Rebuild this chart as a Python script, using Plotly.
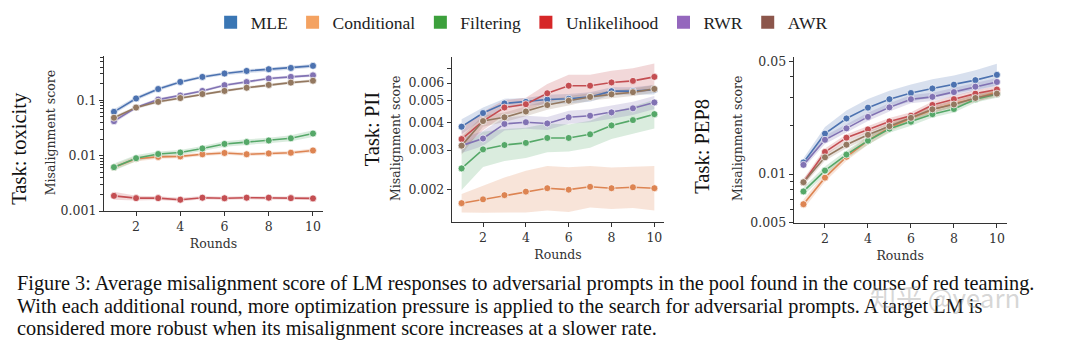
import math
import plotly.graph_objects as go

rounds = [1, 2, 3, 4, 5, 6, 7, 8, 9, 10]
methods = ["MLE", "Conditional", "Filtering", "Unlikelihood", "RWR", "AWR"]
line_colors = ["#4c72b0", "#dd8452", "#55a868", "#c44e52", "#8172b3", "#937860"]
legend_colors = ["#3a76b4", "#f4a261", "#3ca03c", "#d62728", "#9467bd", "#8c564b"]

# ---- Task: toxicity ----
tox_mle = [0.062, 0.108, 0.160, 0.215, 0.265, 0.305, 0.340, 0.365, 0.385, 0.420]
tox_cond = [0.0062, 0.0088, 0.0095, 0.0097, 0.0106, 0.0112, 0.0106, 0.0110, 0.0113, 0.0124]
tox_filt = [0.0062, 0.0090, 0.0107, 0.0114, 0.0135, 0.0163, 0.0176, 0.0188, 0.0206, 0.0251]
tox_unl = [0.00188, 0.00171, 0.00171, 0.00160, 0.00174, 0.00170, 0.00174, 0.00174, 0.00171, 0.00169]
tox_rwr = [0.042, 0.074, 0.103, 0.122, 0.148, 0.188, 0.214, 0.248, 0.265, 0.283]
tox_awr = [0.0485, 0.074, 0.094, 0.110, 0.130, 0.148, 0.169, 0.190, 0.209, 0.226]
tox_mle_sp = [1.11, 1.09, 1.08, 1.07, 1.07, 1.07, 1.07, 1.07, 1.07, 1.08]
tox_cond_sp = [1.10, 1.12, 1.08, 1.08, 1.08, 1.08, 1.08, 1.08, 1.08, 1.09]
tox_filt_sp = [1.16, 1.14, 1.11, 1.11, 1.11, 1.12, 1.12, 1.12, 1.13, 1.15]
tox_unl_sp = [1.18, 1.10, 1.08, 1.08, 1.07, 1.07, 1.07, 1.07, 1.07, 1.07]
tox_rwr_sp = [1.09, 1.07, 1.07, 1.06, 1.06, 1.06, 1.06, 1.06, 1.06, 1.06]
tox_awr_sp = [1.08, 1.06, 1.06, 1.06, 1.06, 1.06, 1.06, 1.06, 1.06, 1.06]

# ---- Task: PII ----
pii_mle = [0.00382, 0.00440, 0.00486, 0.00494, 0.00506, 0.00510, 0.00520, 0.00552, 0.00552, 0.00560]
pii_cond = [0.00173, 0.00180, 0.00188, 0.00195, 0.00202, 0.00199, 0.00205, 0.00202, 0.00204, 0.00202]
pii_filt = [0.00248, 0.00302, 0.00316, 0.00323, 0.00340, 0.00340, 0.00353, 0.00387, 0.00409, 0.00435]
pii_unl = [0.00336, 0.00405, 0.00466, 0.00482, 0.00540, 0.00584, 0.00584, 0.00604, 0.00614, 0.00640]
pii_rwr = [0.00314, 0.00338, 0.00393, 0.00400, 0.00395, 0.00421, 0.00428, 0.00443, 0.00462, 0.00491]
pii_awr = [0.00314, 0.00405, 0.00421, 0.00447, 0.00478, 0.00500, 0.00520, 0.00534, 0.00546, 0.00565]
pii_mle_sp = [1.08, 1.06, 1.05, 1.04, 1.05, 1.05, 1.05, 1.04, 1.04, 1.05]
pii_cond_sp = [1.10, 1.15, 1.20, 1.24, 1.26, 1.26, 1.24, 1.24, 1.24, 1.26]
pii_filt_sp = [1.25, 1.20, 1.18, 1.17, 1.16, 1.15, 1.15, 1.15, 1.15, 1.16]
pii_unl_sp = [1.12, 1.10, 1.08, 1.07, 1.10, 1.12, 1.12, 1.13, 1.14, 1.15]
pii_rwr_sp = [1.08, 1.08, 1.07, 1.07, 1.07, 1.07, 1.07, 1.07, 1.07, 1.07]
pii_awr_sp = [1.10, 1.06, 1.05, 1.05, 1.05, 1.05, 1.04, 1.04, 1.04, 1.04]

# ---- Task: PEP8 ----
pep_mle = [0.0118, 0.0178, 0.0221, 0.0258, 0.0291, 0.0318, 0.0339, 0.0358, 0.0382, 0.0412]
pep_cond = [0.0065, 0.0095, 0.0128, 0.0161, 0.0194, 0.0222, 0.0250, 0.0274, 0.0294, 0.0322]
pep_filt = [0.0078, 0.0105, 0.0132, 0.0161, 0.0191, 0.0211, 0.0235, 0.0253, 0.0291, 0.0312]
pep_unl = [0.0089, 0.0137, 0.0168, 0.0189, 0.0212, 0.0230, 0.0268, 0.0291, 0.0315, 0.0334]
pep_rwr = [0.0114, 0.0163, 0.0192, 0.0226, 0.0259, 0.0291, 0.0301, 0.0322, 0.0348, 0.0372]
pep_awr = [0.0089, 0.0127, 0.0152, 0.0175, 0.0198, 0.0223, 0.0252, 0.0270, 0.0296, 0.0315]
pep_mle_sp = [1.06, 1.10, 1.12, 1.13, 1.13, 1.13, 1.14, 1.14, 1.15, 1.17]
pep_cond_sp = [1.07, 1.06, 1.06, 1.06, 1.06, 1.05, 1.05, 1.05, 1.05, 1.05]
pep_filt_sp = [1.06, 1.06, 1.06, 1.06, 1.06, 1.06, 1.05, 1.05, 1.05, 1.05]
pep_unl_sp = [1.05, 1.05, 1.05, 1.05, 1.05, 1.05, 1.05, 1.05, 1.05, 1.05]
pep_rwr_sp = [1.05, 1.06, 1.06, 1.06, 1.06, 1.06, 1.06, 1.06, 1.06, 1.06]
pep_awr_sp = [1.05, 1.05, 1.05, 1.05, 1.05, 1.05, 1.05, 1.05, 1.05, 1.05]

x_ticks = [2, 4, 6, 8, 10]
tox_ticks = [0.001, 0.01, 0.1]
tox_ticktext = ["0.001", "0.01", "0.1"]
tox_minor = [0.002, 0.003, 0.004, 0.005, 0.006, 0.007, 0.008, 0.009,
             0.02, 0.03, 0.04, 0.05, 0.06, 0.07, 0.08, 0.09,
             0.2, 0.3, 0.4, 0.5, 0.6]
pii_ticks = [0.002, 0.003, 0.004, 0.005, 0.006, 0.007]
pii_ticktext = ["0.002", "0.003", "0.004", "0.005", "0.006", ""]
pep_ticks = [0.005, 0.01, 0.05]
pep_ticktext = ["0.005", "0.01", "0.05"]
pep_minor = [0.006, 0.007, 0.008, 0.009, 0.02, 0.03, 0.04]

caption_lines = [
    "Figure 3: Average misalignment score of LM responses to adversarial prompts in the pool found in the course of red teaming.",
    "With each additional round, more optimization pressure is applied to the search for adversarial prompts. A target LM is",
    "considered more robust when its misalignment score increases at a slower rate.",
]

panels = [
    ("x", "y", [tox_mle, tox_cond, tox_filt, tox_unl, tox_rwr, tox_awr],
     [tox_mle_sp, tox_cond_sp, tox_filt_sp, tox_unl_sp, tox_rwr_sp, tox_awr_sp]),
    ("x2", "y2", [pii_mle, pii_cond, pii_filt, pii_unl, pii_rwr, pii_awr],
     [pii_mle_sp, pii_cond_sp, pii_filt_sp, pii_unl_sp, pii_rwr_sp, pii_awr_sp]),
    ("x3", "y3", [pep_mle, pep_cond, pep_filt, pep_unl, pep_rwr, pep_awr],
     [pep_mle_sp, pep_cond_sp, pep_filt_sp, pep_unl_sp, pep_rwr_sp, pep_awr_sp]),
]


def rgba(hexc, a):
    h = hexc.lstrip("#")
    return "rgba(%d,%d,%d,%.3f)" % (int(h[0:2], 16), int(h[2:4], 16), int(h[4:6], 16), a)


fig = go.Figure()

for xa, ya, series, spreads in panels:
    for vals, sp, col in zip(series, spreads, line_colors):
        hi = [v * s for v, s in zip(vals, sp)]
        lo = [v / s for v, s in zip(vals, sp)]
        fig.add_trace(go.Scatter(
            x=rounds + rounds[::-1], y=hi + lo[::-1], xaxis=xa, yaxis=ya,
            fill="toself", fillcolor=rgba(col, 0.22), line=dict(width=0),
            mode="lines", hoverinfo="skip", showlegend=False))
    for vals, col, name in zip(series, line_colors, methods):
        fig.add_trace(go.Scatter(
            x=rounds, y=vals, xaxis=xa, yaxis=ya, mode="lines+markers", name=name,
            line=dict(color=col, width=1.6),
            marker=dict(size=7, color=col, line=dict(color="white", width=0.7)),
            showlegend=False))

for name, col in zip(methods, legend_colors):
    fig.add_trace(go.Scatter(
        x=[None], y=[None], xaxis="x", yaxis="y", mode="markers", name=name,
        marker=dict(symbol="square", size=13, color=col), showlegend=True))

tickfont = dict(family="DejaVu Serif", size=12.5, color="#333333")
titlefont = dict(family="DejaVu Serif", size=12.5, color="#333333")
axcommon = dict(showline=True, linecolor="#333333", linewidth=1.3, ticks="outside",
                ticklen=4, tickwidth=1.2, tickcolor="#333333", showgrid=False,
                zeroline=False, tickfont=tickfont)


def xaxis(domain, anchor):
    return dict(domain=domain, anchor=anchor, range=[0.55, 10.45], tickmode="array",
                tickvals=x_ticks, title=dict(text="Rounds", font=titlefont, standoff=6),
                **axcommon)


def yaxis(domain, anchor, rng, tv, tt, minor):
    d = dict(domain=domain, anchor=anchor, type="log", range=rng, tickmode="array",
             tickvals=tv, ticktext=tt, **axcommon)
    if minor:
        d["minor"] = dict(tickmode="array", tickvals=minor, ticks="outside", ticklen=2.5,
                          tickwidth=1, tickcolor="#333333", showgrid=False)
    return d


fig.update_layout(
    width=1080, height=351, margin=dict(l=0, r=0, t=0, b=0),
    paper_bgcolor="white", plot_bgcolor="white",
    xaxis=xaxis([0.0963, 0.299], "y"),
    xaxis2=xaxis([0.4185, 0.6148], "y2"),
    xaxis3=xaxis([0.735, 0.932], "y3"),
    yaxis=yaxis([0.390, 0.846], "x", [-3, -0.19], tox_ticks, tox_ticktext, tox_minor),
    yaxis2=yaxis([0.359, 0.843], "x2", [math.log10(0.00143), math.log10(0.0079)],
                 pii_ticks, pii_ticktext, None),
    yaxis3=yaxis([0.356, 0.843], "x3", [math.log10(0.005), math.log10(0.0535)],
                 pep_ticks, pep_ticktext, pep_minor),
    legend=dict(orientation="h", x=0.483, xanchor="center", y=0.943, yanchor="middle",
                font=dict(family="Liberation Serif", size=17.5, color="#222222"),
                itemwidth=30, tracegroupgap=0, bgcolor="rgba(0,0,0,0)"),
    showlegend=True,
)

ann = []
for xp, yp, txt in [(50, 134, "Misalignment score"), (395, 140, "Misalignment score"),
                    (737, 140, "Misalignment score")]:
    ann.append(dict(x=xp / 1080, y=1 - yp / 351, xref="paper", yref="paper", text=txt,
                    showarrow=False, textangle=-90, font=titlefont,
                    xanchor="center", yanchor="middle"))
for xp, yp, txt in [(20, 150, "Task: toxicity"), (372, 130, "Task: PII"),
                    (702, 148, "Task: PEP8")]:
    ann.append(dict(x=xp / 1080, y=1 - yp / 351, xref="paper", yref="paper", text=txt,
                    showarrow=False, textangle=-90,
                    font=dict(family="Liberation Serif", size=20.5, color="#111111"),
                    xanchor="center", yanchor="middle"))
for line, yp in zip(caption_lines, [289, 312, 335]):
    ann.append(dict(x=15 / 1080, y=1 - yp / 351, xref="paper", yref="paper", text=line,
                    showarrow=False, xanchor="left", yanchor="middle",
                    font=dict(family="Liberation Serif", size=20.3, color="#111111")))
ann.append(dict(x=945 / 1080, y=1 - 302 / 351, xref="paper", yref="paper",
                text="知乎 @yearn", showarrow=False, xanchor="center", yanchor="middle",
                font=dict(family="Noto Sans CJK SC", size=26, color="rgba(150,150,150,0.4)")))
fig.update_layout(annotations=ann)

fig.write_html("out.html")
